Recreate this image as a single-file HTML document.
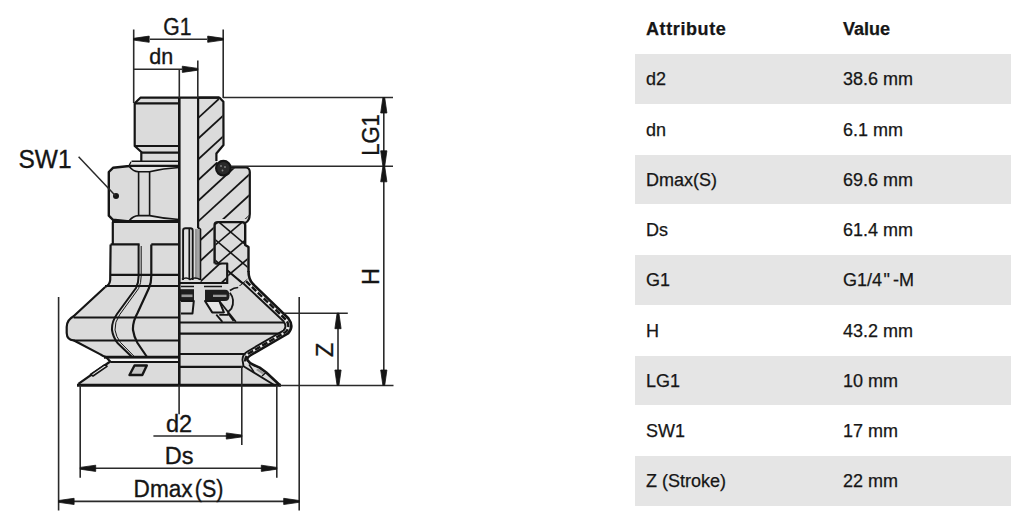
<!DOCTYPE html>
<html><head><meta charset="utf-8">
<style>
html,body{margin:0;padding:0;background:#fff;}
body{width:1024px;height:531px;position:relative;overflow:hidden;font-family:"Liberation Sans",sans-serif;}
svg{position:absolute;left:0;top:0;}
.band{position:absolute;left:635px;width:376px;height:49.6px;background:#e5e5e5;}
.t{position:absolute;font-size:18px;color:#161616;line-height:1;white-space:nowrap;-webkit-text-stroke:0.25px #161616;}
.h{font-weight:bold;}
</style></head><body>
<div class="band" style="top:54px"></div>
<div class="band" style="top:154.6px"></div>
<div class="band" style="top:255.2px"></div>
<div class="band" style="top:355.8px"></div>
<div class="band" style="top:456.4px"></div>

<div class="t h" style="left:646px;top:20.3px;letter-spacing:0.6px">Attribute</div>
<div class="t h" style="left:843px;top:20.3px">Value</div>

<div class="t" style="left:646px;top:70.2px">d2</div><div class="t" style="left:843px;top:70.2px">38.6 mm</div>
<div class="t" style="left:646px;top:120.5px">dn</div><div class="t" style="left:843px;top:120.5px">6.1 mm</div>
<div class="t" style="left:646px;top:170.8px">Dmax(S)</div><div class="t" style="left:843px;top:170.8px">69.6 mm</div>
<div class="t" style="left:646px;top:221.1px">Ds</div><div class="t" style="left:843px;top:221.1px">61.4 mm</div>
<div class="t" style="left:646px;top:271.4px">G1</div><div class="t" style="left:843px;top:271.4px">G1/4<span style="margin:0 3px 0 1.5px">"</span>-M</div>
<div class="t" style="left:646px;top:321.7px">H</div><div class="t" style="left:843px;top:321.7px">43.2 mm</div>
<div class="t" style="left:646px;top:372.0px">LG1</div><div class="t" style="left:843px;top:372.0px">10 mm</div>
<div class="t" style="left:646px;top:422.3px">SW1</div><div class="t" style="left:843px;top:422.3px">17 mm</div>
<div class="t" style="left:646px;top:471.8px">Z (Stroke)</div><div class="t" style="left:843px;top:471.8px">22 mm</div>

<svg width="1024" height="531" viewBox="0 0 1024 531">
<defs>
<clipPath id="metal"><path d="M198.6,98.7 L218.5,98.7 L222.5,102.7 L222.5,145 L215.4,153.5 L215.4,161 L224,168 L245.8,168.5 L248.8,171.5 L248.8,216 L246,219 L213.6,219 L213.6,263.5 L226.2,263.5 L226.2,282 L200.6,282 L200.6,228 L198.6,228 Z"/></clipPath>
<clipPath id="rub"><path d="M215.5,223 L243.5,223 L244.2,245 L247.5,248 L247.5,279 L244,283 L240,286 L228.2,286 L228.2,264.5 L215.5,264.5 Z"/></clipPath>
</defs>
<g fill="#dbdbdb" stroke="#151515" stroke-width="2.2" stroke-linejoin="round">
<path stroke="none" d="M179,97.7 L140.4,97.7 L134.7,103.3 L134.7,146 L141.3,152 L141.3,161 L135,161 L129.4,166 L114,167.5 Q109,168.5 108.8,172 L108.8,215.7 Q109,219.5 114,220.3 L112.8,221.8 L112.8,244.4 L110.6,244.4 L110.2,280 Q109.7,285 105.2,287 L73.6,316.3 Q66.7,320 66.7,327 L66.7,333 Q67,340 73.5,340.3 L75.9,341.5 L100.4,354.4 Q103,356.5 106,357 L110.2,361.5 L78.4,383.8 L78.4,385.5 L179,385.5 Z"/>
<path fill="none" d="M179,97.7 L140.4,97.7 L134.7,103.3 L134.7,146 L141.3,152 L141.3,161"/>
<line x1="134.7" y1="103.3" x2="179" y2="103.3"/>
<line x1="134.7" y1="146" x2="179" y2="146"/>
<line x1="141.3" y1="152.6" x2="179" y2="152.6"/>
<line stroke-width="1.6" x1="131.5" y1="161.3" x2="179" y2="161.3"/>
<path fill="none" stroke-width="2.4" d="M131.5,162 L129.4,166 L113,167.8 L108.8,172 L108.8,215.7 L113,219.8 L129.4,221.5"/>
<path fill="#e4e4e4" stroke="none" d="M129.4,166.5 Q133,171.6 138.6,171.8 L149.6,171.8 Q163,168.5 179,167.5 L179,162 L131.5,162 Z"/>
<path fill="#e4e4e4" stroke="none" d="M129.4,220.5 Q133,215.8 138.6,215.6 L149.6,215.6 Q163,218.5 179,219.5 L179,221 L129.4,221 Z"/>
<line stroke-width="2.2" x1="129.4" y1="165.9" x2="179" y2="165.9"/>
<path fill="none" stroke-width="1.6" d="M129.4,166.5 Q133,171.6 138.6,171.8 L149.6,171.8 Q163,168.5 179,167.5"/>
<path fill="none" stroke-width="1.6" d="M129.4,220.5 Q133,215.8 138.6,215.6 L149.6,215.6 Q163,218.5 179,219.5"/>
<line stroke-width="1.6" x1="138.6" y1="171.8" x2="138.6" y2="215.6"/>
<line stroke-width="1.6" x1="149.6" y1="171.8" x2="149.6" y2="215.6"/>
<circle cx="116" cy="196" r="3" fill="#151515" stroke="none"/>
<line stroke-width="3" x1="112" y1="221.6" x2="179" y2="221.6"/>
<path fill="none" d="M112.8,221.8 L112.8,244.4"/>
<path fill="none" stroke-width="2.4" d="M110.6,244.4 L139.6,244.4 M151.3,244.4 L179,244.4"/>
<path fill="none" d="M110.6,244.4 L110.2,280 Q109.7,285 105.2,287"/>
<line x1="110.6" y1="274.8" x2="179" y2="274.8"/>
<line x1="105" y1="286" x2="179" y2="286"/>
<path fill="none" stroke-width="2" d="M138.6,244.4 L138.6,276 Q138.6,283 136,288 L117,314 Q111.5,322 112,330 Q113,337 117.5,343 L132,357"/>
<path fill="none" stroke-width="1" d="M141.2,246 L141.2,276 Q141.2,283 138.6,288.5 L119.8,314.5 Q114.5,322 115,330 Q116,336.5 120.5,342.5 L134.8,357"/>
<path fill="none" stroke-width="2.2" d="M151.3,244.4 L151.3,276 Q151.3,283 149,288 L137.5,313 Q132.5,322 133,330 Q134,337 137.5,343 L147,357"/>
<path fill="none" d="M105.2,287 L73.6,316.3 Q66.7,320 66.7,327 L66.7,333 Q67,340 73.5,340.3 L75.9,341.5 L100.4,354.4 Q103,356.5 106,357"/>
<line x1="73.6" y1="317.5" x2="179" y2="317.5"/>
<line x1="73.5" y1="340.5" x2="179" y2="340.5"/>
<line stroke-width="3" x1="104" y1="357.3" x2="179" y2="357.3"/>
<path fill="#f4f4f4" stroke="none" d="M105,358.8 L179,358.8 L179,361.3 L110.5,361.3 Z"/>
<line stroke-width="1.8" x1="110.5" y1="362" x2="179" y2="362"/>
<path fill="none" d="M106,357 L110.2,361.5 L78.4,383.8"/>
<path fill="#efefef" stroke-width="1.6" d="M90.5,374.5 L104.5,364.8 L107,366.3 L93,376 Z"/>
<path fill="#c4c4c4" stroke-width="2.4" d="M129.5,375 L134.5,365.5 L146.8,365.5 L142.3,375 Z"/>
</g>
<g fill="#dbdbdb" stroke="#151515" stroke-width="2.2" stroke-linejoin="round">
<path stroke="none" d="M179.3,97.7 L218.5,97.7 L223.5,102.7 L223.5,145 L216.4,153.5 L216.4,161 L224,168 L245.8,167.5 L249.8,171.5 L249.8,214 Q249.6,221 245.2,223 L245.2,245 L248.5,247 L248.5,271 Q248.5,279.5 253,284 L288.3,318.3 Q294.5,326.6 288,333.5 L247,355.5 Q238.5,359.5 247.2,362.9 Q252,364.5 255.7,365.2 L266,372.3 L280.2,385.5 L179.3,385.5 Z"/>
<rect x="180" y="98.5" width="17.5" height="129.5" fill="#e4e4e4" stroke="none"/>
<g clip-path="url(#metal)" stroke-width="1.8">
<line x1="190" y1="104.8" x2="260" y2="40.4"/>
<line x1="190" y1="125.5" x2="260" y2="61.1"/>
<line x1="190" y1="146.2" x2="260" y2="81.8"/>
<line x1="190" y1="166.9" x2="260" y2="102.5"/>
<line x1="190" y1="187.6" x2="260" y2="123.2"/>
<line x1="190" y1="208.3" x2="260" y2="143.9"/>
<line x1="190" y1="229.0" x2="260" y2="164.6"/>
<line x1="190" y1="249.7" x2="260" y2="185.3"/>
<line x1="190" y1="270.4" x2="260" y2="206.0"/>
<line x1="190" y1="291.1" x2="260" y2="226.7"/>
<line x1="190" y1="311.8" x2="260" y2="247.4"/>
<line x1="190" y1="332.5" x2="260" y2="268.1"/>
<line x1="190" y1="353.2" x2="260" y2="288.8"/>
</g>
<g clip-path="url(#rub)" stroke-width="1.6">
<line x1="200" y1="175.2" x2="260" y2="124.2"/>
<line x1="200" y1="123.2" x2="260" y2="174.2"/>
<line x1="200" y1="195.9" x2="260" y2="144.9"/>
<line x1="200" y1="143.9" x2="260" y2="194.9"/>
<line x1="200" y1="216.6" x2="260" y2="165.6"/>
<line x1="200" y1="164.6" x2="260" y2="215.6"/>
<line x1="200" y1="237.3" x2="260" y2="186.3"/>
<line x1="200" y1="185.3" x2="260" y2="236.3"/>
<line x1="200" y1="258.0" x2="260" y2="207.0"/>
<line x1="200" y1="206.0" x2="260" y2="257.0"/>
<line x1="200" y1="278.7" x2="260" y2="227.7"/>
<line x1="200" y1="226.7" x2="260" y2="277.7"/>
<line x1="200" y1="299.4" x2="260" y2="248.4"/>
<line x1="200" y1="247.4" x2="260" y2="298.4"/>
<line x1="200" y1="320.1" x2="260" y2="269.1"/>
<line x1="200" y1="268.1" x2="260" y2="319.1"/>
<line x1="200" y1="340.8" x2="260" y2="289.8"/>
<line x1="200" y1="288.8" x2="260" y2="339.8"/>
<line x1="200" y1="361.5" x2="260" y2="310.5"/>
<line x1="200" y1="309.5" x2="260" y2="360.5"/>
</g>
<path fill="none" d="M198.1,97.7 L219.6,97.7 L223.4,101.8 L223.5,145 L216.4,153.5 L216.4,161"/>
<path fill="none" d="M230.5,167.5 L245.8,167.5 Q249.8,168 249.8,172 L249.8,214 Q249.6,221 245.2,223"/>
<line x1="198.1" y1="97.7" x2="198.1" y2="228"/>
<line x1="179.3" y1="97.7" x2="219" y2="97.7"/>
<path fill="none" stroke-width="2.4" d="M214.6,263.5 L214.6,225 Q214.6,222.1 218,222.1 L242,222.1 Q245.2,222.1 245.2,225 L245.2,245 L248.5,247 L248.5,272"/>
<path fill="none" d="M214.6,263.5 L227.2,263.5 L227.2,284"/>
<path fill="none" d="M198.1,228 L200.2,229.5 L200.2,280"/>
<circle cx="223.4" cy="168.2" r="7.3" fill="#2a2a2a"/>
<circle cx="221" cy="166" r="0.9" fill="#888" stroke="none"/><circle cx="225" cy="167" r="0.9" fill="#888" stroke="none"/><circle cx="222.5" cy="170.5" r="0.9" fill="#888" stroke="none"/>
<path fill="#e2e2e2" stroke-width="1.9" d="M183.1,280 L183.1,230.5 Q183.1,228.2 185.5,228.2 L190.3,228.2 Q192.7,228.2 192.7,230.5 L192.7,280"/>
<line stroke-width="1.7" x1="189.3" y1="229" x2="189.3" y2="279"/>
<rect x="196.3" y="229" width="3.4" height="50" fill="#a4a4a4" stroke="none"/>
<line stroke-width="1" stroke="#666" x1="195.9" y1="229" x2="195.9" y2="279"/>
<path fill="none" stroke-width="1.6" d="M182,279.5 Q186,276.5 190,279.5 Q195,276.5 200,279.5"/>
<line x1="179.3" y1="283" x2="227" y2="283"/>
<path fill="none" stroke-width="1.6" d="M181,286.5 L194,286.5 M204,286.5 L222,286.5"/>
<rect x="180" y="289.2" width="14" height="11.8" fill="#1e1e1e" stroke="none"/>
<rect x="181.5" y="294.5" width="11" height="2.6" fill="#9a9a9a" stroke="none"/>
<path d="M205,289.8 L225,289.8 Q229.5,289.8 229.5,295.4 Q229.5,301 225,301 L205,301 Z" fill="#1e1e1e" stroke="none"/>
<rect x="213" y="294.7" width="13.5" height="2.3" fill="#9a9a9a" stroke="none"/>
<path fill="none" stroke-width="2" d="M181,301 L193.8,301 L192.5,313.5 L181,313.5"/>
<path fill="#e6e6e6" stroke-width="2" d="M205,301 L219.3,301 L223.9,312.4 L212.2,312.4 Z"/>
<path fill="none" stroke-width="1.8" d="M219.3,301 L235.9,321.8 M216.3,314.6 L222.4,321.8 M219.3,314.8 L228.4,314.8 M227.6,312.4 L233.6,321"/>
<path fill="none" stroke-width="1.8" d="M229.9,292.8 Q235.5,300 231.4,308.6 L227.6,312.4"/>
<path fill="none" stroke-width="1.6" d="M227.2,270 L243.5,283.5 M229.9,290.5 Q234,287.5 238.2,287.5"/>
<line x1="179.3" y1="322.5" x2="284.5" y2="322.5"/>
<line x1="179.3" y1="333.6" x2="285" y2="333.6"/>
<line x1="179.3" y1="354" x2="245.5" y2="354"/>
<line x1="179.3" y1="366.8" x2="243" y2="366.8"/>
<path fill="none" stroke-width="2.3" stroke="#eeeeee" d="M246,281.2 L285.8,319.6 Q291,326.6 285.7,332 L249,353.3 Q244.8,356.5 245.2,361.5"/>
<path fill="none" stroke-width="2.4" stroke-dasharray="6 2.2" d="M246,281.2 L285.8,319.6 Q291,326.6 285.7,332 L249,353.3 Q244.8,356.5 245.2,361.5"/>
<path fill="none" stroke-width="2.6" d="M248.5,271 Q248.5,279.5 253,284 L288.3,318.3 Q294.5,326.6 288,333.5 L251,355 Q246,358 247.8,360.5 Q249.5,363.5 253.7,365 L259.6,367.6 L266,372.3 L280.2,385.5"/>
<path fill="none" stroke-width="1.9" d="M243.5,283.5 L283.3,321 Q287.5,326.6 283.5,330.5 L247.5,351.5 Q242.5,354.5 242.5,359.7 L243.5,366.3 L275,385.5"/>
<path fill="#9a9a9a" stroke="none" d="M258,368.5 L265,373 L262,374 L256,370 Z"/>
<path fill="none" stroke-width="1.4" d="M249,364.5 L254,372 M262,376 L266,372.5"/>
<line stroke-width="2.6" x1="179.3" y1="97.7" x2="179.3" y2="386"/>
<line stroke-width="3" x1="77" y1="385.2" x2="281" y2="385.2"/>
</g>
<g stroke="#2a2a2a" stroke-width="1.6" fill="none">
<line x1="133.7" y1="29.5" x2="133.7" y2="103"/>
<line x1="223.2" y1="29.5" x2="223.2" y2="98"/>
<line x1="150" y1="39.2" x2="207" y2="39.2"/>
<line x1="133.7" y1="69.3" x2="182" y2="69.3"/>
<line x1="197.8" y1="60.5" x2="197.8" y2="98"/>
<line x1="179.3" y1="69.3" x2="179.3" y2="98"/>
<line x1="223" y1="97.5" x2="393" y2="97.5"/>
<line x1="231" y1="166.3" x2="393" y2="166.3"/>
<line x1="383.8" y1="110" x2="383.8" y2="372"/>
<line x1="279" y1="385.5" x2="393.5" y2="385.5"/>
<line x1="284" y1="313.2" x2="347.8" y2="313.2"/>
<line x1="338" y1="325" x2="338" y2="372"/>
<line x1="58.6" y1="297" x2="58.6" y2="510.5"/>
<line x1="299.2" y1="297" x2="299.2" y2="510.5"/>
<line x1="80.2" y1="385" x2="80.2" y2="477.7"/>
<line x1="276.8" y1="385" x2="276.8" y2="477.7"/>
<line x1="179.1" y1="385" x2="179.1" y2="414.3"/>
<line x1="241.8" y1="366" x2="241.8" y2="445"/>
<line x1="153.4" y1="436" x2="228" y2="436"/>
<line x1="94" y1="468.3" x2="263" y2="468.3"/>
<line x1="73" y1="501.4" x2="285" y2="501.4"/>
<line stroke-width="1.5" x1="78.6" y1="156.8" x2="115.5" y2="195.7"/>
</g>
<path d="M133.7,38.3 L149.2,36.1 L149.2,42.3 L133.7,40.1 Z" fill="#151515" stroke="#151515" stroke-width="0.8" stroke-linejoin="round"/>
<path d="M223.2,40.1 L207.7,42.3 L207.7,36.1 L223.2,38.3 Z" fill="#151515" stroke="#151515" stroke-width="0.8" stroke-linejoin="round"/>
<path d="M197.8,70.2 L182.3,72.4 L182.3,66.2 L197.8,68.4 Z" fill="#151515" stroke="#151515" stroke-width="0.8" stroke-linejoin="round"/>
<path d="M384.7,97.5 L386.9,113.0 L380.7,113.0 L382.9,97.5 Z" fill="#151515" stroke="#151515" stroke-width="0.8" stroke-linejoin="round"/>
<path d="M382.9,166.3 L380.7,150.8 L386.9,150.8 L384.7,166.3 Z" fill="#151515" stroke="#151515" stroke-width="0.8" stroke-linejoin="round"/>
<path d="M384.7,166.3 L386.9,181.8 L380.7,181.8 L382.9,166.3 Z" fill="#151515" stroke="#151515" stroke-width="0.8" stroke-linejoin="round"/>
<path d="M382.9,385.5 L380.7,370.0 L386.9,370.0 L384.7,385.5 Z" fill="#151515" stroke="#151515" stroke-width="0.8" stroke-linejoin="round"/>
<path d="M338.9,313.2 L341.1,328.7 L334.9,328.7 L337.1,313.2 Z" fill="#151515" stroke="#151515" stroke-width="0.8" stroke-linejoin="round"/>
<path d="M337.1,385.5 L334.9,370.0 L341.1,370.0 L338.9,385.5 Z" fill="#151515" stroke="#151515" stroke-width="0.8" stroke-linejoin="round"/>
<path d="M241.8,436.9 L226.3,439.1 L226.3,432.9 L241.8,435.1 Z" fill="#151515" stroke="#151515" stroke-width="0.8" stroke-linejoin="round"/>
<path d="M80.2,467.4 L95.7,465.2 L95.7,471.4 L80.2,469.2 Z" fill="#151515" stroke="#151515" stroke-width="0.8" stroke-linejoin="round"/>
<path d="M276.8,469.2 L261.3,471.4 L261.3,465.2 L276.8,467.4 Z" fill="#151515" stroke="#151515" stroke-width="0.8" stroke-linejoin="round"/>
<path d="M58.6,500.5 L74.1,498.3 L74.1,504.5 L58.6,502.3 Z" fill="#151515" stroke="#151515" stroke-width="0.8" stroke-linejoin="round"/>
<path d="M299.2,502.3 L283.7,504.5 L283.7,498.3 L299.2,500.5 Z" fill="#151515" stroke="#151515" stroke-width="0.8" stroke-linejoin="round"/>
<g font-family="Liberation Sans, sans-serif" font-size="23.5" fill="#151515" stroke="#151515" stroke-width="0.35">
<text x="163.3" y="35" textLength="28.2" lengthAdjust="spacingAndGlyphs">G1</text>
<text x="149.2" y="63.8" font-size="21.5">dn</text>
<text x="18.5" y="167.8" font-size="25" textLength="53" lengthAdjust="spacingAndGlyphs">SW1</text>
<text x="166" y="431.8">d2</text>
<text x="164.8" y="464">Ds</text>
<text x="133.6" y="496.8" textLength="59" lengthAdjust="spacingAndGlyphs">Dmax</text>
<text x="194.8" y="496.8" textLength="28.6" lengthAdjust="spacingAndGlyphs">(S)</text>
<text transform="translate(379,155.8) rotate(-90)" textLength="41.6" lengthAdjust="spacingAndGlyphs">LG1</text>
<text transform="translate(379,285) rotate(-90)">H</text>
<text transform="translate(333,357) rotate(-90)">Z</text>
</g>
</svg>
</body></html>
